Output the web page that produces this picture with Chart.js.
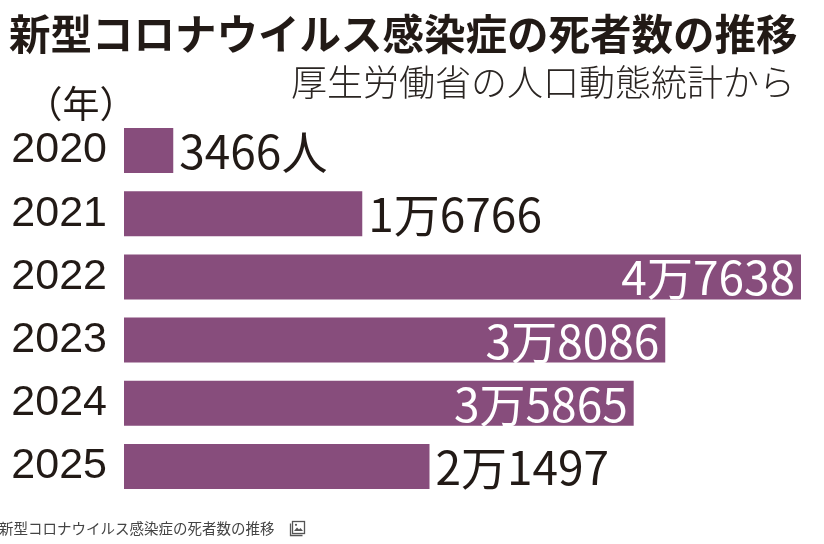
<!DOCTYPE html>
<html lang="ja">
<head>
<meta charset="utf-8">
<title>新型コロナウイルス感染症の死者数の推移</title>
<script src="https://cdn.jsdelivr.net/npm/chart.js@4.4.1/dist/chart.umd.min.js"></script>
<style>
  html, body { margin: 0; padding: 0; background: #fff; }
  #chart { display: block; }
</style>
</head>
<body>
<canvas id="chart" width="824" height="544"></canvas>
<script>
"use strict";

// data
const years = ['2020', '2021', '2022', '2023', '2024', '2025'];
const deaths = [3466, 16766, 47638, 38086, 35865, 21497];

const titleText = '新型コロナウイルス感染症の死者数の推移';
const subtitleText = '厚生労働省の人口動態統計から';
const unitText = '（年）';
const captionText = '新型コロナウイルス感染症の死者数の推移';

const barColor = '#874d7c';
const inkColor = '#221a16';
const jpFont = '"Noto Sans CJK JP", "Noto Sans", sans-serif';

// 3466 -> 3466人, 16766 -> 1万6766
function formatDeaths(v, i) {
  let s;
  if (v >= 10000) {
    s = Math.floor(v / 10000) + '万' + String(v % 10000).padStart(4, '0');
  } else {
    s = String(v);
  }
  return i === 0 ? s + '人' : s;
}

// value labels, inside the long bars, outside the short ones
const valueLabels = {
  id: 'valueLabels',
  afterDatasetsDraw(chart) {
    const ctx = chart.ctx;
    const meta = chart.getDatasetMeta(0);
    const maxV = chart.scales.x.max;
    ctx.save();
    ctx.font = '400 46px ' + jpFont;
    ctx.textBaseline = 'middle';
    meta.data.forEach((bar, i) => {
      const v = deaths[i];
      const label = formatDeaths(v, i);
      if (v > maxV * 0.6) {
        ctx.fillStyle = '#ffffff';
        ctx.textAlign = 'right';
        ctx.fillText(label, bar.x - 6, bar.y + 1);
      } else {
        ctx.fillStyle = inkColor;
        ctx.textAlign = 'left';
        ctx.fillText(label, bar.x + 6, bar.y + 1);
      }
    });
    ctx.restore();
  }
};

// titles, unit, caption
const decorations = {
  id: 'decorations',
  afterDraw(chart) {
    const ctx = chart.ctx;
    ctx.save();
    ctx.fillStyle = inkColor;
    ctx.textBaseline = 'middle';

    ctx.font = '700 41.5px ' + jpFont;
    ctx.textAlign = 'left';
    ctx.fillText(titleText, 9, 34);

    ctx.fillStyle = '#2a2522';
    ctx.font = '300 36px ' + jpFont;
    ctx.textAlign = 'right';
    ctx.fillText(subtitleText, 795, 82);

    ctx.fillStyle = inkColor;
    ctx.font = '400 37px ' + jpFont;
    ctx.textAlign = 'center';
    ctx.fillText(unitText, 81, 104);

    ctx.fillStyle = '#444';
    ctx.font = '400 14.5px ' + jpFont;
    ctx.textAlign = 'left';
    ctx.fillText(captionText, -1, 528);

    // small picture icon next to the caption
    ctx.strokeStyle = '#555';
    ctx.lineWidth = 1.3;
    ctx.strokeRect(292.5, 521.5, 12, 12);
    ctx.beginPath();
    ctx.moveTo(290.5, 523.5);
    ctx.lineTo(290.5, 535.5);
    ctx.lineTo(302.5, 535.5);
    ctx.stroke();
    ctx.beginPath();
    ctx.moveTo(294, 531);
    ctx.lineTo(297, 527.5);
    ctx.lineTo(299, 529.5);
    ctx.lineTo(300.5, 528);
    ctx.lineTo(303, 531);
    ctx.closePath();
    ctx.fillStyle = '#555';
    ctx.fill();
    ctx.beginPath();
    ctx.arc(296, 524.8, 1.1, 0, Math.PI * 2);
    ctx.fill();
    ctx.restore();
  }
};

new Chart(document.getElementById('chart').getContext('2d'), {
  type: 'bar',
  data: {
    labels: years,
    datasets: [{
      data: deaths,
      backgroundColor: barColor,
      borderWidth: 0,
      categoryPercentage: 1,
      barPercentage: 0.712
    }]
  },
  options: {
    indexAxis: 'y',
    responsive: false,
    animation: false,
    devicePixelRatio: 1,
    layout: {
      padding: { top: 119, bottom: 46, right: 23, left: 0 }
    },
    scales: {
      x: {
        display: false,
        min: 0,
        max: 47638
      },
      y: {
        afterFit(scale) { scale.width = 124; },
        grid: { display: false, drawTicks: false },
        border: { display: false },
        ticks: {
          padding: 17,
          color: inkColor,
          font: { family: '"Liberation Sans", Arial, sans-serif', size: 43 }
        }
      }
    },
    plugins: {
      legend: { display: false },
      tooltip: { enabled: false }
    }
  },
  plugins: [valueLabels, decorations]
});
</script>
</body>
</html>
